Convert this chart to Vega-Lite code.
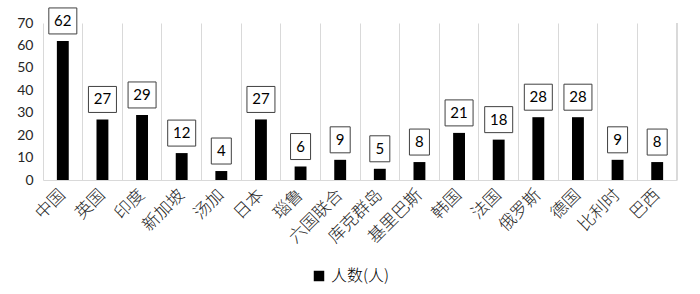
{
  "$schema": "https://vega.github.io/schema/vega-lite/v6.json",
  "autosize": {"type": "none"},
  "width": 634,
  "height": 157,
  "padding": {"left": 43, "top": 23, "right": 23, "bottom": 114},
  "background": "white",
  "config": {"view": {"stroke": null}},
  "data": {"values": [
    {"c": "中国", "v": 62}, {"c": "英国", "v": 27}, {"c": "印度", "v": 29},
    {"c": "新加坡", "v": 12}, {"c": "汤加", "v": 4}, {"c": "日本", "v": 27},
    {"c": "瑙鲁", "v": 6}, {"c": "六国联合", "v": 9}, {"c": "库克群岛", "v": 5},
    {"c": "基里巴斯", "v": 8}, {"c": "韩国", "v": 21}, {"c": "法国", "v": 18},
    {"c": "俄罗斯", "v": 28}, {"c": "德国", "v": 28}, {"c": "比利时", "v": 9},
    {"c": "巴西", "v": 8}
  ]},
  "encoding": {
    "x": {"field": "c", "type": "nominal", "sort": null,
      "scale": {"paddingInner": 0, "paddingOuter": 0,
        "domain": ["中国","英国","印度","新加坡","汤加","日本","瑙鲁","六国联合","库克群岛","基里巴斯","韩国","法国","俄罗斯","德国","比利时","巴西"]},
      "axis": {"title": null, "bandPosition": 0, "grid": true, "gridColor": "#d9d9d9",
        "ticks": false, "domainColor": "#d9d9d9", "labelAngle": -45, "labelAlign": "right",
        "labelBaseline": "middle", "labelPadding": 12,
        "labelFont": "Noto Sans CJK SC", "labelFontSize": 17, "labelFontWeight": 300, "labelColor": "#262626"}},
    "y": {"field": "v", "type": "quantitative", "scale": {"domain": [0, 70], "nice": false},
      "axis": {"title": null, "values": [0,10,20,30,40,50,60,70], "grid": false, "domain": false, "ticks": false,
        "labelPadding": 10, "labelFont": "Lato", "labelFontSize": 14, "labelColor": "#262626"}}
  },
  "layer": [
    {
      "mark": {"type": "rule", "color": "#d9d9d9"},
      "encoding": {
        "x": {"datum": "巴西", "bandPosition": 1},
        "y": {"datum": 0},
        "y2": {"datum": 70}
      }
    },
    {
      "mark": {"type": "bar", "width": {"band": 0.3}},
      "encoding": {
        "color": {"datum": "人数(人)", "type": "nominal", "scale": {"range": ["black"]},
          "legend": {"title": null, "orient": "none", "legendX": 268, "legendY": 245, "symbolType": "square", "symbolSize": 110,
            "labelFont": "Noto Sans CJK SC", "labelFontSize": 16, "labelFontWeight": 300, "labelColor": "#000"}}
      }
    },
    {
      "mark": {"type": "point", "filled": true, "fill": "white", "stroke": "#404040",
        "strokeWidth": 1, "opacity": 1, "size": 196, "yOffset": -20},
      "encoding": {
        "shape": {"condition": {"test": "datum.v < 10", "value": "M-1.43,-1.857H1.43V1.857H-1.43Z"},
          "value": "M-2,-1.857H2V1.857H-2Z"}
      }
    },
    {
      "mark": {"type": "text", "font": "Lato", "fontSize": 15, "color": "#000", "yOffset": -20, "baseline": "middle"},
      "encoding": {"text": {"field": "v"}}
    }
  ]
}
